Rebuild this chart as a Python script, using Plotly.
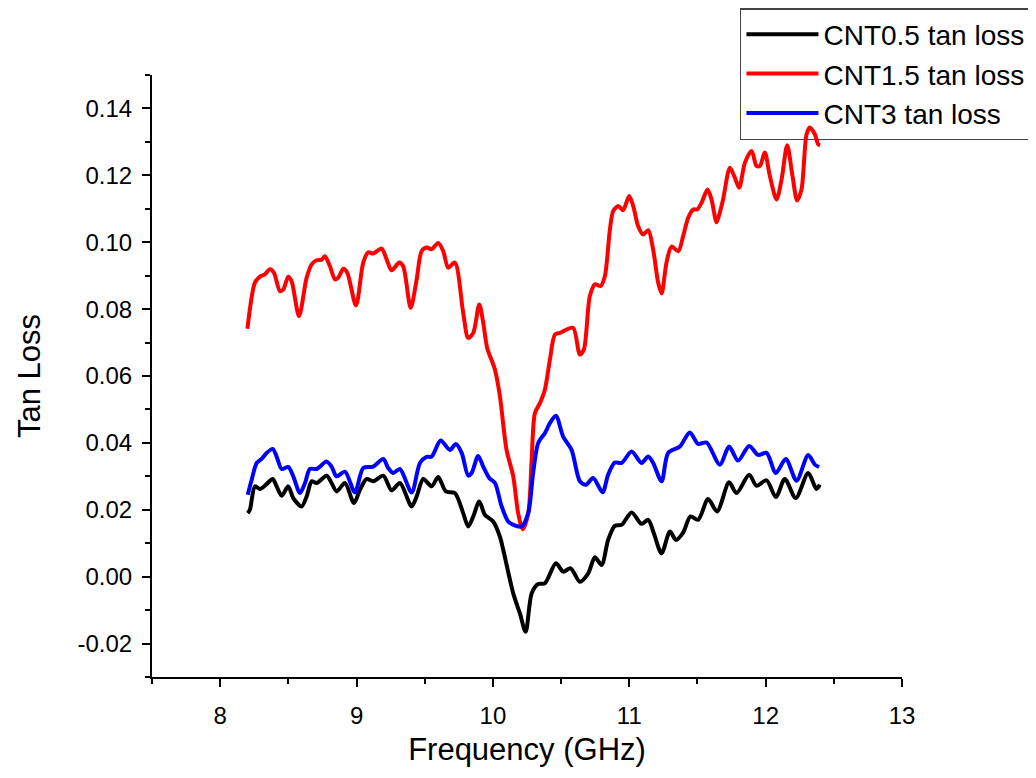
import plotly.graph_objects as go

# ---- data ----
freq_cnt05 = [8.202, 8.218, 8.255, 8.292, 8.336, 8.385, 8.414, 8.451, 8.499, 8.536,
              8.597, 8.634, 8.671, 8.707, 8.781, 8.817, 8.854, 8.915, 8.981, 9.025,
              9.074, 9.122, 9.196, 9.257, 9.318, 9.404, 9.441, 9.489, 9.551, 9.599,
              9.655, 9.721, 9.782, 9.819, 9.856, 9.900, 9.941, 10.002, 10.051, 10.076,
              10.149, 10.198, 10.240, 10.284, 10.332, 10.381, 10.462, 10.515, 10.570, 10.638,
              10.699, 10.748, 10.797, 10.845, 10.894, 10.944, 11.017, 11.090, 11.139, 11.180,
              11.237, 11.298, 11.342, 11.395, 11.449, 11.505, 11.578, 11.644, 11.732, 11.787,
              11.879, 11.933, 12.007, 12.075, 12.141, 12.221, 12.312, 12.373, 12.397]
tan_cnt05 = [0.0190, 0.0200, 0.0270, 0.0262, 0.0275, 0.0292, 0.0270, 0.0242, 0.0270, 0.0235,
             0.0210, 0.0240, 0.0285, 0.0280, 0.0302, 0.0280, 0.0255, 0.0280, 0.0220, 0.0260,
             0.0292, 0.0285, 0.0302, 0.0258, 0.0280, 0.0210, 0.0240, 0.0292, 0.0270, 0.0298,
             0.0255, 0.0250, 0.0190, 0.0150, 0.0180, 0.0225, 0.0185, 0.0165, 0.0120, 0.0080,
             -0.0050, -0.0110, -0.0165, -0.0050, -0.0022, -0.0020, 0.0040, 0.0015, 0.0025, -0.0015,
             0.0010, 0.0058, 0.0035, 0.0110, 0.0152, 0.0155, 0.0192, 0.0158, 0.0170, 0.0130,
             0.0070, 0.0135, 0.0110, 0.0132, 0.0180, 0.0170, 0.0232, 0.0195, 0.0282, 0.0250,
             0.0305, 0.0272, 0.0288, 0.0238, 0.0292, 0.0235, 0.0310, 0.0262, 0.0275]

freq_cnt15 = [8.200, 8.255, 8.292, 8.328, 8.365, 8.394, 8.438, 8.463, 8.499, 8.524,
              8.578, 8.634, 8.671, 8.707, 8.744, 8.768, 8.805, 8.842, 8.866, 8.903,
              8.932, 8.996, 9.049, 9.086, 9.122, 9.184, 9.221, 9.257, 9.313, 9.342,
              9.397, 9.441, 9.477, 9.514, 9.551, 9.599, 9.636, 9.672, 9.721, 9.782,
              9.819, 9.856, 9.900, 9.929, 9.958, 10.015, 10.051, 10.100, 10.149, 10.185,
              10.218, 10.259, 10.284, 10.308, 10.345, 10.381, 10.418, 10.455, 10.491, 10.540,
              10.589, 10.638, 10.667, 10.711, 10.748, 10.790, 10.821, 10.858, 10.882, 10.919,
              10.955, 10.999, 11.029, 11.065, 11.102, 11.139, 11.175, 11.212, 11.237, 11.273,
              11.310, 11.359, 11.395, 11.432, 11.469, 11.498, 11.530, 11.574, 11.603, 11.640,
              11.664, 11.688, 11.738, 11.774, 11.806, 11.848, 11.897, 11.933, 11.958, 11.994,
              12.031, 12.080, 12.117, 12.158, 12.197, 12.231, 12.263, 12.300, 12.324, 12.361,
              12.385, 12.400]
tan_cnt15 = [0.0741, 0.0879, 0.0897, 0.0904, 0.0919, 0.0909, 0.0854, 0.0859, 0.0897, 0.0883,
             0.0779, 0.0894, 0.0934, 0.0946, 0.0948, 0.0958, 0.0928, 0.0889, 0.0894, 0.0921,
             0.0909, 0.0811, 0.0939, 0.0970, 0.0966, 0.0981, 0.0948, 0.0916, 0.0939, 0.0928,
             0.0804, 0.0889, 0.0973, 0.0984, 0.0979, 0.0998, 0.0973, 0.0924, 0.0939, 0.0789,
             0.0714, 0.0729, 0.0814, 0.0759, 0.0684, 0.0619, 0.0541, 0.0379, 0.0300, 0.0190,
             0.0142, 0.0190, 0.0350, 0.0489, 0.0519, 0.0559, 0.0649, 0.0724, 0.0729, 0.0739,
             0.0744, 0.0664, 0.0679, 0.0839, 0.0874, 0.0869, 0.0898, 0.1038, 0.1093, 0.1108,
             0.1096, 0.1138, 0.1108, 0.1048, 0.1023, 0.1036, 0.0978, 0.0879, 0.0847, 0.0939,
             0.0987, 0.0973, 0.1018, 0.1073, 0.1098, 0.1098, 0.1118, 0.1158, 0.1128, 0.1060,
             0.1089, 0.1128, 0.1223, 0.1193, 0.1163, 0.1238, 0.1273, 0.1228, 0.1228, 0.1268,
             0.1198, 0.1128, 0.1188, 0.1290, 0.1198, 0.1125, 0.1158, 0.1323, 0.1343, 0.1323,
             0.1293, 0.1290]

freq_cnt3 = [8.202, 8.231, 8.268, 8.304, 8.341, 8.385, 8.414, 8.451, 8.499, 8.536,
             8.585, 8.622, 8.658, 8.707, 8.781, 8.817, 8.854, 8.915, 8.988, 9.049,
             9.122, 9.196, 9.232, 9.269, 9.318, 9.404, 9.465, 9.514, 9.551, 9.617,
             9.685, 9.729, 9.771, 9.819, 9.844, 9.892, 9.929, 9.973, 10.015, 10.064,
             10.112, 10.149, 10.210, 10.259, 10.295, 10.332, 10.381, 10.418, 10.462, 10.515,
             10.577, 10.638, 10.682, 10.735, 10.804, 10.845, 10.894, 10.944, 11.017, 11.090,
             11.139, 11.175, 11.237, 11.285, 11.371, 11.444, 11.505, 11.567, 11.664, 11.732,
             11.798, 11.879, 11.945, 12.007, 12.075, 12.148, 12.227, 12.312, 12.361, 12.392]
tan_cnt3 = [0.0245, 0.0290, 0.0340, 0.0352, 0.0370, 0.0382, 0.0359, 0.0322, 0.0328, 0.0300,
            0.0250, 0.0280, 0.0322, 0.0322, 0.0344, 0.0329, 0.0300, 0.0314, 0.0252, 0.0325,
            0.0329, 0.0352, 0.0325, 0.0310, 0.0322, 0.0252, 0.0340, 0.0358, 0.0359, 0.0407,
            0.0379, 0.0397, 0.0370, 0.0302, 0.0310, 0.0361, 0.0329, 0.0295, 0.0280, 0.0210,
            0.0165, 0.0155, 0.0150, 0.0190, 0.0310, 0.0400, 0.0429, 0.0459, 0.0481, 0.0419,
            0.0379, 0.0285, 0.0275, 0.0295, 0.0252, 0.0305, 0.0341, 0.0340, 0.0374, 0.0340,
            0.0359, 0.0340, 0.0285, 0.0370, 0.0389, 0.0431, 0.0397, 0.0401, 0.0335, 0.0389,
            0.0347, 0.0391, 0.0364, 0.0370, 0.0310, 0.0352, 0.0287, 0.0364, 0.0335, 0.0328]

series_names = ["CNT0.5 tan loss", "CNT1.5 tan loss", "CNT3 tan loss"]
series_colors = ["#000000", "#FF0000", "#0000FF"]

x_tick_vals = [8, 9, 10, 11, 12, 13]
x_tick_text = ["8", "9", "10", "11", "12", "13"]
y_tick_vals = [-0.02, 0.00, 0.02, 0.04, 0.06, 0.08, 0.10, 0.12, 0.14]
y_tick_text = ["-0.02", "0.00", "0.02", "0.04", "0.06", "0.08", "0.10", "0.12", "0.14"]

x_title = "Frequency (GHz)"
y_title = "Tan Loss"

FONT = "Arial, 'Liberation Sans', sans-serif"

fig = go.Figure()
for fx, fy, name, col in zip([freq_cnt05, freq_cnt15, freq_cnt3],
                             [tan_cnt05, tan_cnt15, tan_cnt3],
                             series_names, series_colors):
    fig.add_trace(go.Scatter(x=fx, y=fy, mode="lines", name=name,
                             line=dict(color=col, width=4, shape="spline", smoothing=0.8)))

axis_common = dict(showline=True, linecolor="black", linewidth=2, showgrid=False,
                   zeroline=False, ticks="outside", ticklen=8, tickwidth=2, tickcolor="black",
                   tickfont=dict(family=FONT, size=24, color="black"), mirror=False)

fig.update_xaxes(range=[7.5, 13], tickmode="array", tickvals=x_tick_vals, ticktext=x_tick_text,
                 ticklabelstandoff=8,
                 minor=dict(ticks="outside", dtick=0.5, tick0=7.5, ticklen=5, tickwidth=2, tickcolor="black"),
                 title=dict(text=x_title, font=dict(family=FONT, size=31, color="black"), standoff=11),
                 **axis_common)
fig.update_yaxes(range=[-0.03, 0.15], tickmode="array", tickvals=y_tick_vals, ticktext=y_tick_text,
                 ticklabelstandoff=5,
                 minor=dict(ticks="outside", dtick=0.01, tick0=0, ticklen=5, tickwidth=2, tickcolor="black"),
                 title=dict(text=y_title, font=dict(family=FONT, size=31, color="black"), standoff=28),
                 **axis_common)

fig.update_layout(
    width=1028, height=770,
    margin=dict(l=144, r=134, t=67, b=101, autoexpand=False),
    paper_bgcolor="white", plot_bgcolor="white",
    font=dict(family=FONT, color="black"),
    legend=dict(xref="container", yref="container", x=0.9951, y=1.0,
                xanchor="right", yanchor="top",
                bgcolor="rgba(255,255,255,0)", bordercolor="#444444", borderwidth=1.5,
                font=dict(family=FONT, size=28, color="black"),
                tracegroupgap=0, itemwidth=72),
    showlegend=True,
)

fig.write_html("out.html")
